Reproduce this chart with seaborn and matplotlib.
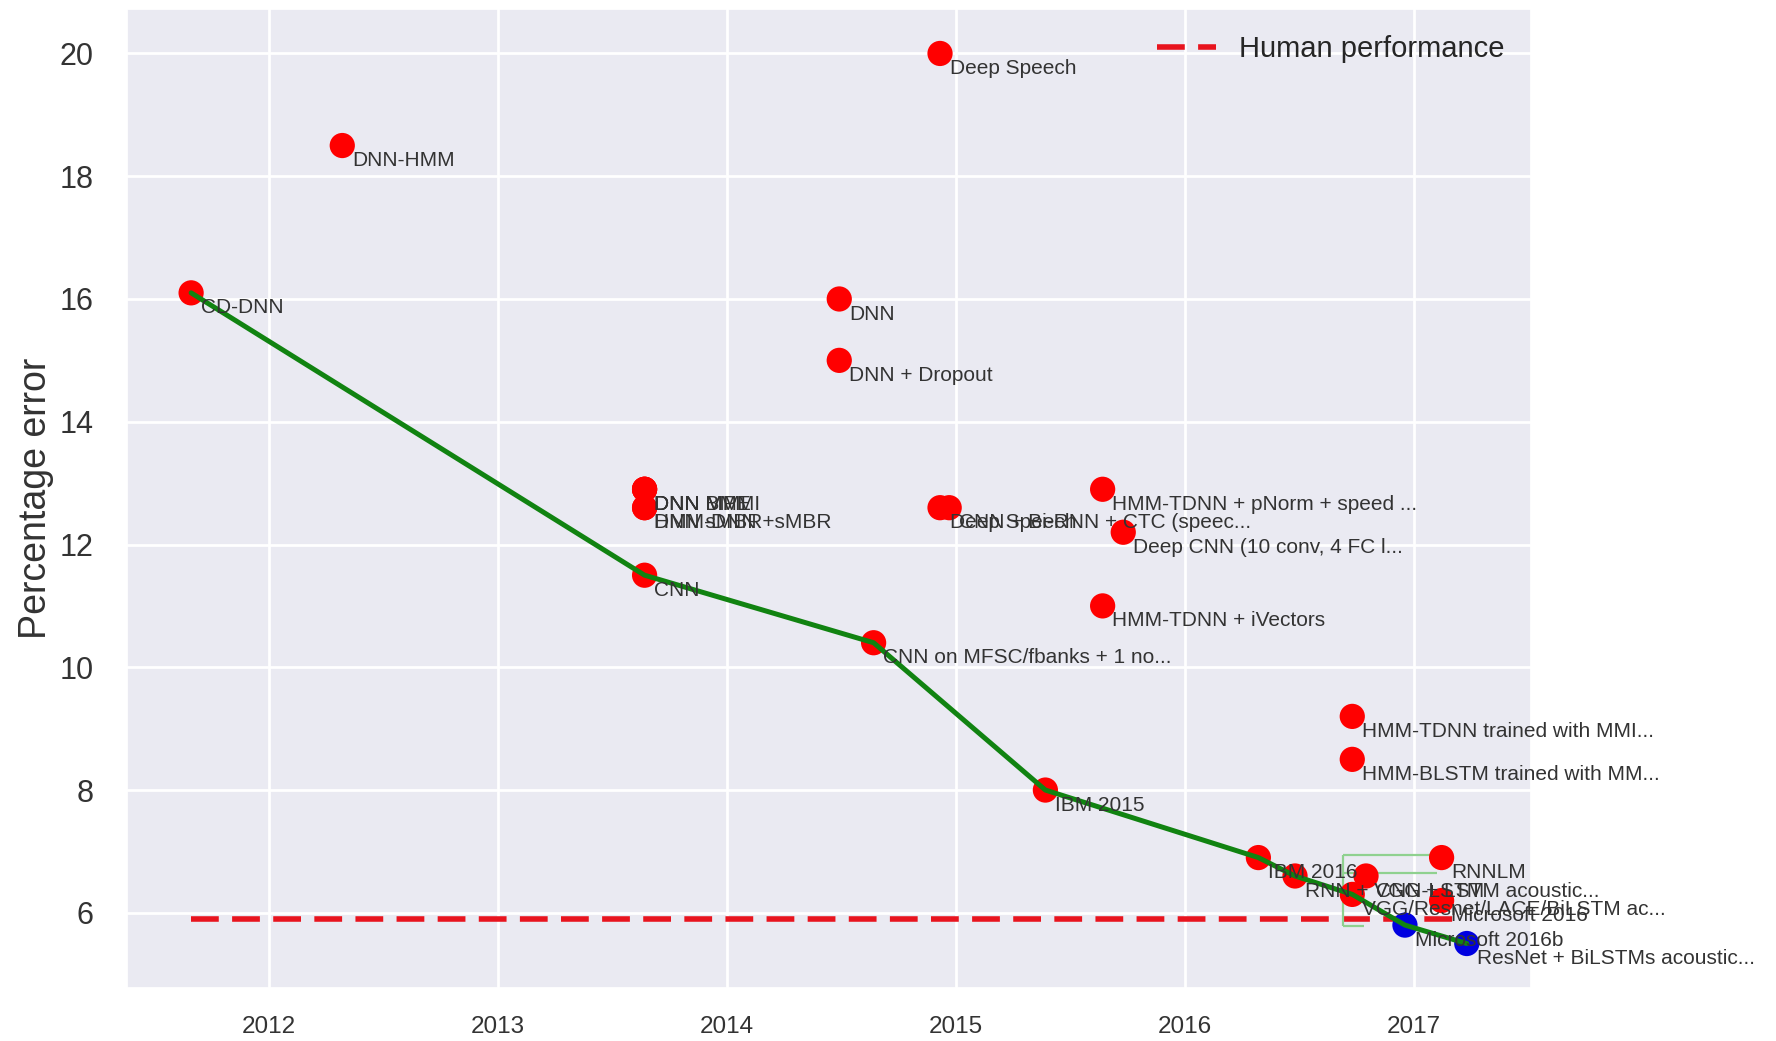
import matplotlib
matplotlib.use("Agg")
import matplotlib.pyplot as plt
import seaborn as sns
import pandas as pd

# ---- data (decimal year, percentage error) ----
years = [2011.66, 2012.32, 2013.64, 2013.64, 2013.64, 2013.64, 2013.64, 2013.64,
         2014.49, 2014.49, 2014.64, 2014.93, 2014.93, 2014.97, 2015.39, 2015.64,
         2015.64, 2015.73, 2016.32, 2016.48, 2016.73, 2016.73, 2016.73, 2016.79,
         2016.96, 2017.12, 2017.12, 2017.23]
errors = [16.1, 18.5, 12.9, 12.9, 12.9, 12.6, 12.6, 11.5,
          16.0, 15.0, 10.4, 20.0, 12.6, 12.6, 8.0, 12.9,
          11.0, 12.2, 6.9, 6.6, 9.2, 8.5, 6.3, 6.6,
          5.8, 6.9, 6.2, 5.5]
labels = ["CD-DNN", "DNN-HMM", "DNN MMI", "DNN MPE", "DNN BMMI", "DNN sMBR",
          "HMM-DNN +sMBR", "CNN", "DNN", "DNN + Dropout",
          "CNN on MFSC/fbanks + 1 no...", "Deep Speech", "Deep Speech",
          "CNN + Bi-RNN + CTC (speec...", "IBM 2015",
          "HMM-TDNN + pNorm + speed ...", "HMM-TDNN + iVectors",
          "Deep CNN (10 conv, 4 FC l...", "IBM 2016",
          "RNN + VGG + LSTM acoustic...", "HMM-TDNN trained with MMI...",
          "HMM-BLSTM trained with MM...", "VGG/Resnet/LACE/BiLSTM ac...",
          "CNN-LSTM", "Microsoft 2016b", "RNNLM", "Microsoft 2016",
          "ResNet + BiLSTMs acoustic..."]
groups = ["above"] * 24 + ["below", "above", "above", "below"]

frontier_years = [2011.66, 2013.64, 2014.64, 2015.39, 2016.32, 2016.48, 2016.73, 2016.96, 2017.23]
frontier_errors = [16.1, 11.5, 10.4, 8.0, 6.9, 6.6, 6.3, 5.8, 5.5]

human_years = [2011.66, 2017.18]
human_errors = [5.9, 5.9]

bracket_levels = [6.94, 6.65]
bracket_span = [2016.69, 2017.10]
bracket_low = [5.78]

year_ticks = [2012, 2013, 2014, 2015, 2016, 2017]
error_ticks = [6, 8, 10, 12, 14, 16, 18, 20]

# ---- style ----
sns.set_theme(style="darkgrid")
plt.rcParams['font.family'] = ['Liberation Sans', 'DejaVu Sans']
plt.rcParams['grid.linewidth'] = 2.0

fig = plt.figure(figsize=(17.76, 10.41), dpi=100)
ax = fig.add_axes([0.0715, 0.0509, 0.7905, 0.9405])

df = pd.DataFrame({"year": years, "error": errors, "label": labels, "group": groups})

# human performance line
ax.plot(human_years, human_errors, color="#e8141e", lw=4, dashes=(5, 2.4),
        label="Human performance", zorder=2)

# thin green bracket lines
ax.hlines(bracket_levels, bracket_span[0], bracket_span[1], color="#8fd18f", lw=1.6, zorder=2.5)
ax.vlines(bracket_span[0], bracket_low[0], bracket_levels[0], color="#8fd18f", lw=1.6, zorder=2.5)
ax.hlines(bracket_low, bracket_span[0], bracket_span[0] + 0.09, color="#8fd18f", lw=1.6, zorder=2.5)

sns.scatterplot(data=df, x="year", y="error", hue="group",
                palette={"above": "#ff0000", "below": "#0000e0"},
                s=330, linewidth=0, legend=False, ax=ax, zorder=3)

sns.lineplot(x=frontier_years, y=frontier_errors, color="#118311", lw=3.6,
             ax=ax, zorder=4, sort=False, estimator=None)

for x, y, t in zip(years, errors, labels):
    ax.annotate(t, (x, y), xytext=(7, -4), textcoords="offset points",
                ha="left", va="top", fontsize=15, color="#333333", zorder=5)

ax.set_xlim(2011.38, 2017.51)
ax.set_ylim(4.775, 20.725)
ax.set_xticks(year_ticks)
ax.set_xticklabels([str(y) for y in year_ticks])
ax.set_yticks(error_ticks)
ax.tick_params(axis="x", labelsize=17.5, pad=14, colors="#333333")
ax.tick_params(axis="y", labelsize=22, pad=18, colors="#333333")
ax.set_xlabel("")
ax.set_ylabel("Percentage error", fontsize=27, color="#333333", labelpad=4)

leg = ax.legend(loc="upper right", fontsize=21, frameon=False, handlelength=2.0)

fig.savefig("out.png", dpi=100, facecolor="white")
